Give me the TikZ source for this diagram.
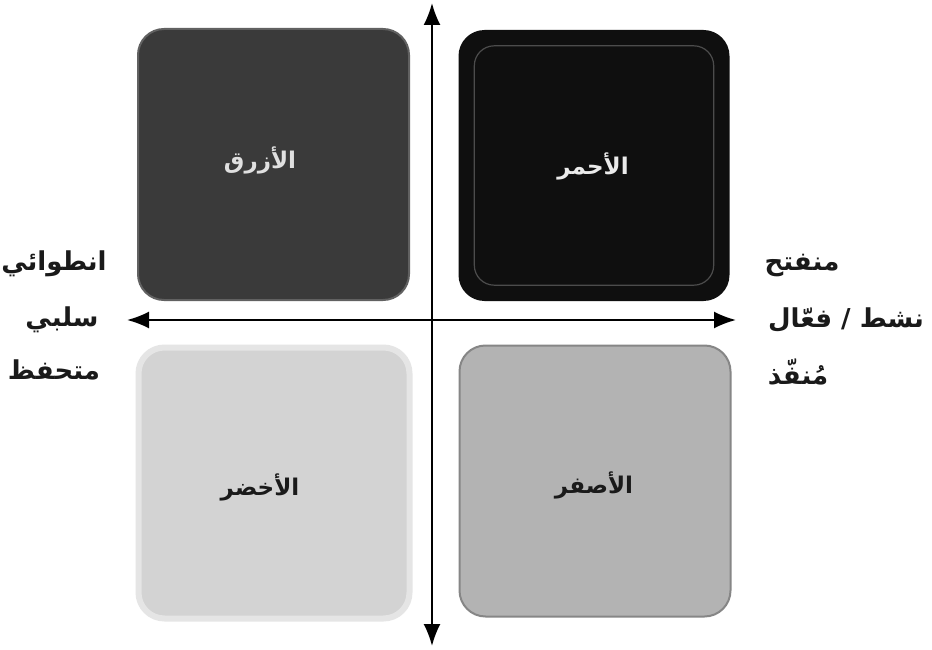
\documentclass[tikz,border=0pt]{standalone}
\usepackage{fontspec}
\usepackage{tikz}
\usetikzlibrary{arrows.meta}
\newfontfamily\arabicfont[Script=Arabic]{DejaVu Sans}
\TeXXeTstate=1
\definecolor{darkquad}{HTML}{3A3A3A}
\definecolor{blackquad}{HTML}{0F0F0F}
\definecolor{lightquad}{HTML}{D3D3D3}
\definecolor{midquad}{HTML}{B3B3B3}
\definecolor{inkdark}{HTML}{1A1A1A}
\tikzset{
  quad/.style={rounded corners=26pt,minimum width=271pt,minimum height=271pt,inner sep=0pt},
  axis/.style={line width=2pt,{Latex[length=22pt,width=17pt]}-{Latex[length=22pt,width=17pt]}},
  tag/.style={font=\arabicfont\bfseries\fontsize{23}{26}\selectfont,inner sep=1pt},
  side/.style={font=\arabicfont\bfseries\fontsize{26}{30}\selectfont,inner sep=1pt,text=inkdark}
}

\begin{document}
\begin{tikzpicture}[x=1pt,y=-1pt]
    \useasboundingbox[fill=white] (0,0) rectangle (932,650);
    % the four quadrants
    \node[quad,fill=darkquad,draw=darkquad!80!white,line width=2pt] (blue) at (273.5,164.5) {};
    \node[quad,fill=blackquad] (red) at (594,165.5) {};
    \draw[black!70,line width=1.2pt,rounded corners=20pt]
      ([shift={(16,16)}]red.north west) rectangle ([shift={(-16,-16)}]red.south east);
    \node[quad,fill=lightquad,draw=lightquad!60!white,line width=6pt] (green) at (274,483) {};
    \node[quad,fill=midquad,draw=midquad!75!black,line width=2pt] (yellow) at (595,481) {};
    \node[tag,text=black!12] (bluetag) at (260,160) {\beginR الأزرق\endR};
    \node[tag,text=black!8] (redtag) at (593,166) {\beginR الأحمر\endR};
    \node[tag,text=inkdark] (greentag) at (260,487) {\beginR الأخضر\endR};
    \node[tag,text=inkdark] (yellowtag) at (594,485) {\beginR الأصفر\endR};
    % axes
    \coordinate (top) at (432,3);
    \coordinate (bottom) at (432,646);
    \coordinate (left) at (127,320);
    \coordinate (right) at (736,320);
    \draw[axis] (bottom) -- (top);
    \draw[axis] (left) -- (right);
    % side labels
    \node[side] (introvert) at (54,264) {\beginR انطوائي\endR};
    \node[side] (passive) at (62,320) {\beginR سلبي\endR};
    \node[side] (reserved) at (54,370) {\beginR متحفظ\endR};
    \node[side] (extrovert) at (802,266) {\beginR منفتح\endR};
    \node[side] (active) at (846,320) {\beginR نشط / فعّال\endR};
    \node[side] (doer) at (798,372) {\beginR مُنفّذ\endR};
  \end{tikzpicture}
\end{document}
